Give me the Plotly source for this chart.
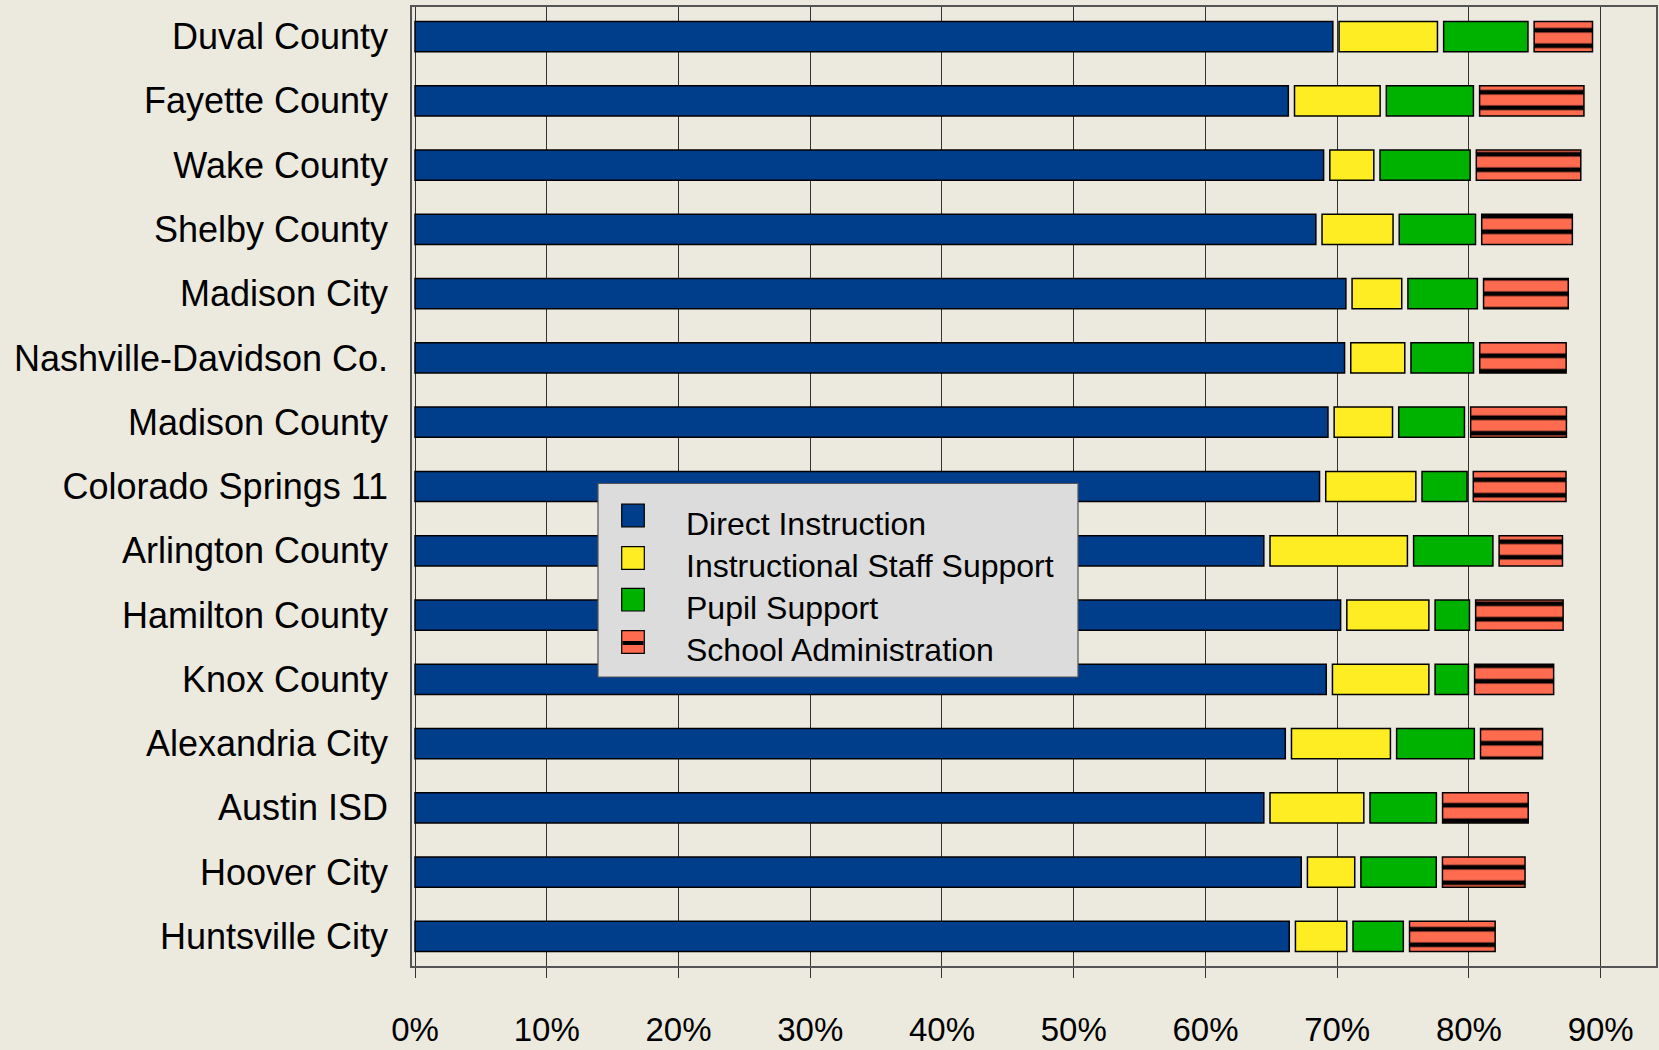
import plotly.graph_objects as go

categories = ["Duval County", "Fayette County", "Wake County", "Shelby County", "Madison City",
              "Nashville-Davidson Co.", "Madison County", "Colorado Springs 11", "Arlington County",
              "Hamilton County", "Knox County", "Alexandria City", "Austin ISD", "Hoover City",
              "Huntsville City"]

direct_instruction = [69.67, 66.29, 68.97, 68.38, 70.66, 70.56, 69.30, 68.66, 64.43, 70.26, 69.17, 66.06, 64.43, 67.27, 66.36]
staff_support =      [7.47, 6.50, 3.34, 5.39, 3.77, 4.10, 4.43, 6.84, 10.43, 6.23, 7.32, 7.51, 7.12, 3.59, 3.90]
pupil_support =      [6.40, 6.61, 6.84, 5.79, 5.27, 4.75, 4.99, 3.42, 6.02, 2.61, 2.53, 5.90, 5.04, 5.72, 3.82]
school_admin =       [4.43, 7.92, 7.93, 6.88, 6.43, 6.56, 7.27, 7.04, 4.81, 6.64, 6.00, 4.71, 6.50, 6.27, 6.50]

series_names = ["Direct Instruction", "Instructional Staff Support", "Pupil Support", "School Administration"]
tick_values = [0, 10, 20, 30, 40, 50, 60, 70, 80, 90]
tick_labels = ["0%", "10%", "20%", "30%", "40%", "50%", "60%", "70%", "80%", "90%"]

colors = ["#003D8A", "#FFED24", "#00B200", "#FF6B4F"]
GAP = 0.47  # visual spacing between stacked segments (in axis units)

series = [direct_instruction, staff_support, pupil_support, school_admin]
FONT = "Liberation Sans, Arial, sans-serif"

W, H = 1659, 1050
ML, MR, MT, MB = 412, 3, 7, 84
PW, PH = W - ML - MR, H - MT - MB


def px_x(px):
    return (px - ML) / PW


def px_y(py):
    return (H - MB - py) / PH


fig = go.Figure()
running = [0.0] * len(categories)
for i, (name, vals, col) in enumerate(zip(series_names, series, colors)):
    base = [r + (GAP if i > 0 else 0) for r in running]
    marker = dict(color=col, line=dict(color="#000000", width=1.5))
    if i == 3:
        marker["pattern"] = dict(shape="-", fgcolor="#000000", bgcolor=col, fgopacity=1,
                                 size=15.5, solidity=0.3, fillmode="overlay")
    fig.add_trace(go.Bar(
        y=categories, x=vals, base=base, orientation="h", name=name,
        marker=marker, width=0.47, showlegend=False,
    ))
    running = [b + v for b, v in zip(base, vals)]

# Legend drawn as a boxed key (style elements)
shapes = [dict(type="rect", xref="paper", yref="paper",
               x0=px_x(598), x1=px_x(1078), y0=px_y(677), y1=px_y(483.5),
               fillcolor="#DCDCDC", line=dict(color="#555555", width=1.2), layer="above")]
annotations = []
sym_centers = [515.5, 558, 599.7, 642]
for i, (name, col) in enumerate(zip(series_names, colors)):
    cy = sym_centers[i]
    shapes.append(dict(type="rect", xref="paper", yref="paper",
                       x0=px_x(621.7), x1=px_x(644.3), y0=px_y(cy + 11.3), y1=px_y(cy - 11.3),
                       fillcolor=col, line=dict(color="#000000", width=1.2), layer="above"))
    if i == 3:
        shapes.append(dict(type="line", xref="paper", yref="paper",
                           x0=px_x(622.5), x1=px_x(643.5), y0=px_y(cy + 1), y1=px_y(cy + 1),
                           line=dict(color="#000000", width=4), layer="above"))
    annotations.append(dict(xref="paper", yref="paper", x=px_x(684), y=px_y(cy + 8),
                            xanchor="left", yanchor="middle", showarrow=False, text=name,
                            font=dict(family=FONT, size=32, color="#000000")))

fig.update_layout(
    template="none",
    width=W, height=H,
    margin=dict(l=ML, r=MR, t=MT, b=MB, autoexpand=False),
    paper_bgcolor="#ECE9DF", plot_bgcolor="#ECE9DF",
    barmode="overlay",
    showlegend=False,
    shapes=shapes, annotations=annotations,
    font=dict(family=FONT, color="#000000"),
)

fig.update_xaxes(
    automargin=False,
    range=[-0.23, 94.2], tickvals=tick_values, ticktext=tick_labels,
    showgrid=True, gridcolor="#333333", gridwidth=1.2, zeroline=False,
    ticks="outside", ticklen=10, tickcolor="#333333", tickwidth=1.2,
    showline=True, linecolor="#555555", linewidth=1.5, mirror=True,
    tickfont=dict(family=FONT, size=33, color="#000000"),
    ticklabelstandoff=24,
)
fig.update_yaxes(
    automargin=False,
    categoryorder="array", categoryarray=categories, autorange=False,
    range=[14.46, -0.46],
    showgrid=False, zeroline=False, ticks="",
    showline=True, linecolor="#555555", linewidth=1.5, mirror=True,
    tickfont=dict(family=FONT, size=36, color="#000000"),
    ticklabelstandoff=15,
)

fig.write_html("out.html", config={"displayModeBar": False},
               post_script="document.body.style.margin='0';")
